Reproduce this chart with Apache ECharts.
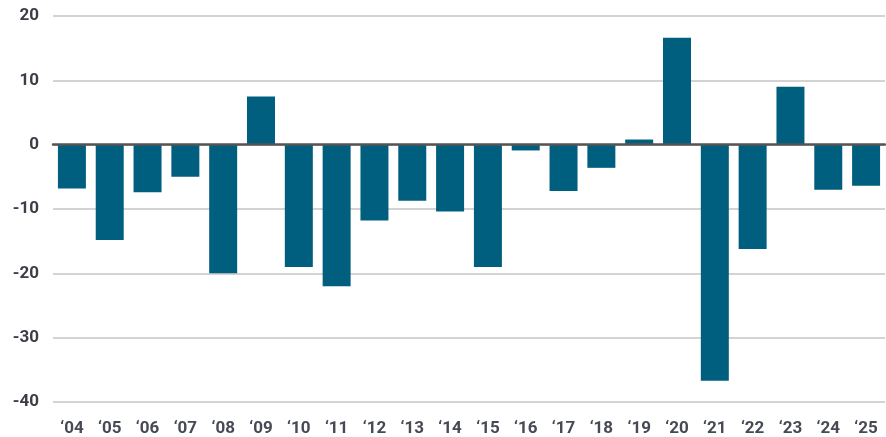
<!DOCTYPE html>
<html>
<head>
<meta charset="utf-8">
<script src="https://cdn.jsdelivr.net/npm/echarts@6/dist/echarts.min.js"></script>
<style>
html,body{margin:0;padding:0;background:#fff;}
#chart{width:886px;height:437px;}
</style>
</head>
<body>
<div id="chart"></div>
<script>
var categories = ["\u201804","\u201805","\u201806","\u201807","\u201808","\u201809","\u201810","\u201811","\u201812","\u201813","\u201814","\u201815","\u201816","\u201817","\u201818","\u201819","\u201820","\u201821","\u201822","\u201823","\u201824","\u201825"];
var values = [-6.8,-14.8,-7.4,-5.0,-20.0,7.5,-19.0,-22.0,-11.8,-8.7,-10.4,-19.0,-0.9,-7.2,-3.6,0.8,16.6,-36.7,-16.2,9.0,-7.0,-6.4];
var yTicks = {min:-40, max:20, interval:10};

var chart = echarts.init(document.getElementById('chart'), null, {renderer:'canvas'});
chart.setOption({
  animation:false,
  grid:{left:53, right:1, top:16, bottom:35, containLabel:false},
  xAxis:[{
    type:'category', data:categories, position:'bottom',
    axisLine:{show:false, onZero:false}, axisTick:{show:false},
    axisLabel:{color:'#474a55', fontFamily:'Roboto', fontWeight:'bold', fontSize:17, margin:18}
  },{
    type:'category', data:categories, position:'bottom', z:10,
    axisLine:{show:true, onZero:true, lineStyle:{color:'#555555', width:2.5}},
    axisTick:{show:false}, axisLabel:{show:false}
  }],
  yAxis:{
    type:'value', min:yTicks.min, max:yTicks.max, interval:yTicks.interval,
    axisLine:{show:false}, axisTick:{show:false},
    splitLine:{lineStyle:{color:'#c4c4c4', width:1.5}},
    axisLabel:{color:'#3c3d47', fontFamily:'Roboto', fontWeight:'bold', fontSize:17, margin:14}
  },
  series:[{
    type:'bar', data:values, barCategoryGap:'26%',
    itemStyle:{color:'#005e7e'}
  }]
});
</script>
</body>
</html>
